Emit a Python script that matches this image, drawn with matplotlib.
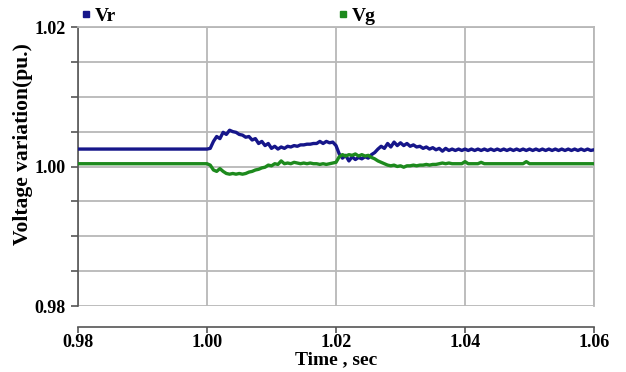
import numpy as np
import matplotlib.pyplot as plt
from matplotlib.lines import Line2D

# time base after the disturbance (0.5 ms steps from 1.00 s to 1.06 s)
t_pre = [0.98, 1.0]
t_step = np.round(np.arange(1.0, 1.06001, 0.0005), 4)

vr_pre = [1.0025, 1.0025]
vg_pre = [1.0004, 1.0004]

vr = [1.0025, 1.0026, 1.0036, 1.0043, 1.0040, 1.0049, 1.0046, 1.0052, 1.0050, 1.0049,
      1.0046, 1.0045, 1.0042, 1.0043, 1.0038, 1.0040, 1.0033, 1.0036, 1.0030, 1.0033,
      1.0026, 1.0029, 1.0025, 1.0028, 1.0026, 1.0029, 1.0028, 1.0030, 1.0029, 1.0031,
      1.0031, 1.0032, 1.0032, 1.0033, 1.0033, 1.0036, 1.0033, 1.0036, 1.0034, 1.0035,
      1.0030, 1.0018, 1.0012, 1.0016, 1.0008, 1.0014, 1.0010, 1.0013, 1.0011, 1.0014,
      1.0012, 1.0017, 1.0020, 1.0025, 1.0029, 1.0026, 1.0033, 1.0028, 1.0035, 1.0030,
      1.0034, 1.0030, 1.0033, 1.0029, 1.0031, 1.0028, 1.0029, 1.0026, 1.0028, 1.0025,
      1.0027, 1.0024, 1.0026, 1.0022, 1.0026, 1.0023, 1.0025, 1.0023, 1.0025, 1.0023,
      1.0025, 1.0023, 1.0025, 1.0023, 1.0025, 1.0023, 1.0025, 1.0023, 1.0025, 1.0023,
      1.0025, 1.0023, 1.0025, 1.0023, 1.0025, 1.0023, 1.0025, 1.0023, 1.0025, 1.0023,
      1.0025, 1.0023, 1.0025, 1.0023, 1.0025, 1.0023, 1.0025, 1.0023, 1.0025, 1.0023,
      1.0025, 1.0023, 1.0025, 1.0023, 1.0025, 1.0023, 1.0025, 1.0023, 1.0025, 1.0023,
      1.0024]

vg = [1.0004, 1.0002, 0.9995, 0.9993, 0.9997, 0.9993, 0.9990, 0.9989, 0.9990, 0.9989,
      0.9990, 0.9989, 0.9990, 0.9992, 0.9993, 0.9995, 0.9996, 0.9998, 0.9999, 1.0002,
      1.0001, 1.0004, 1.0003, 1.0008, 1.0004, 1.0005, 1.0004, 1.0006, 1.0005, 1.0004,
      1.0005, 1.0004, 1.0005, 1.0004, 1.0004, 1.0003, 1.0004, 1.0003, 1.0004, 1.0005,
      1.0006, 1.0014, 1.0017, 1.0015, 1.0017, 1.0016, 1.0018, 1.0015, 1.0017, 1.0015,
      1.0016, 1.0013, 1.0011, 1.0008, 1.0006, 1.0004, 1.0002, 1.0001, 1.0002, 1.0000,
      1.0001, 0.9999, 1.0001, 1.0001, 1.0002, 1.0001, 1.0002, 1.0002, 1.0003, 1.0002,
      1.0003, 1.0003, 1.0004, 1.0005, 1.0004, 1.0005, 1.0004, 1.0004, 1.0004, 1.0004,
      1.0007, 1.0004, 1.0004, 1.0004, 1.0004, 1.0006, 1.0004, 1.0004, 1.0004, 1.0004,
      1.0004, 1.0004, 1.0004, 1.0004, 1.0004, 1.0004, 1.0004, 1.0004, 1.0004, 1.0007,
      1.0004, 1.0004, 1.0004, 1.0004, 1.0004, 1.0004, 1.0004, 1.0004, 1.0004, 1.0004,
      1.0004, 1.0004, 1.0004, 1.0004, 1.0004, 1.0004, 1.0004, 1.0004, 1.0004, 1.0004,
      1.0004]

x_ticks = [0.98, 1.00, 1.02, 1.04, 1.06]
y_ticks = [0.98, 1.00, 1.02]

VR_COLOR = '#16168a'
VG_COLOR = '#1d8a1d'
GRID = '#b8b8b8'

plt.rcParams['font.family'] = ['Liberation Serif', 'DejaVu Serif']
plt.rcParams['font.weight'] = 'bold'

fig = plt.figure(figsize=(6.26, 3.72), dpi=100)
ax = fig.add_axes([0.1246, 0.1774, 0.8243, 0.75])

t_all = t_pre + list(t_step)
ax.plot(t_all, vr_pre + vr, color=VR_COLOR, lw=2.4, zorder=3)
ax.plot(t_all, vg_pre + vg, color=VG_COLOR, lw=2.4, zorder=3)

ax.set_xlim(0.98, 1.06)
ax.set_ylim(0.98, 1.02)

# grid every 0.005 pu, labels only on the 0.02 steps
y_grid = np.round(np.arange(0.98, 1.0201, 0.005), 3)
ax.set_yticks(y_grid)
ax.set_yticklabels(['%.2f' % v if any(abs(v - y) < 1e-9 for y in y_ticks) else ''
                    for v in y_grid])
ax.set_xticks(x_ticks)
ax.set_xticklabels(['%.2f' % v for v in x_ticks])
ax.grid(True, color=GRID, lw=1.3)
ax.set_axisbelow(True)

for side in ['top', 'right']:
    ax.spines[side].set_color(GRID)
    ax.spines[side].set_linewidth(1.3)
ax.spines['left'].set_color('#555555')
ax.spines['left'].set_linewidth(1.2)
ax.spines['bottom'].set_position(('outward', 15))
ax.spines['bottom'].set_color('#555555')
ax.spines['bottom'].set_linewidth(1.2)

ax.tick_params(axis='y', direction='out', length=5, width=1.2, color='#555555',
               labelsize=13, pad=4)
ax.tick_params(axis='x', direction='out', length=4, width=1.2, color='#555555',
               labelsize=13, pad=1.5)

ax.set_xlabel('Time , sec', fontsize=14, fontweight='bold', labelpad=0)
ax.set_ylabel('Voltage variation(pu.)', fontsize=15.5, fontweight='bold')
ax.yaxis.set_label_coords(-0.088, 0.58)

handles = [Line2D([], [], marker='s', ls='none', color=VR_COLOR, markersize=4.3),
           Line2D([], [], marker='s', ls='none', color=VG_COLOR, markersize=4.3)]
ax.legend(handles, ['Vr', 'Vg'], ncol=2, loc='lower left',
          bbox_to_anchor=(0.004, 1.007), frameon=False, fontsize=14,
          handlelength=0.6, handletextpad=0.15, columnspacing=11.4,
          borderpad=0, borderaxespad=0)

fig.savefig('out.png', dpi=100)
